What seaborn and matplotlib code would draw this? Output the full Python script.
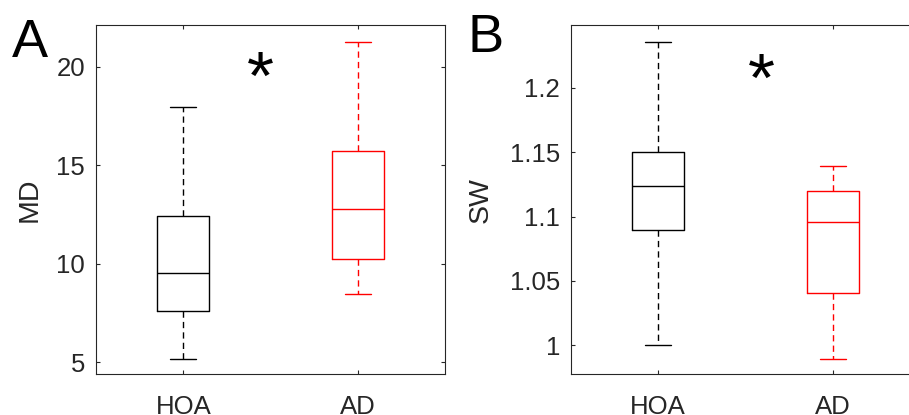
import pandas as pd
import numpy as np
import matplotlib
matplotlib.use("Agg")
import matplotlib.pyplot as plt
import seaborn as sns

# values: [lower whisker, Q1, median, Q3, upper whisker]
groups = ["HOA", "AD"]
md_hoa = [5.16, 7.57, 9.51, 12.40, 17.98]
md_ad = [8.44, 10.23, 12.79, 15.73, 21.29]
sw_hoa = [1.0005, 1.0899, 1.1236, 1.1502, 1.2357]
sw_ad = [0.9897, 1.0409, 1.0956, 1.1200, 1.1394]

md_ticks = [5, 10, 15, 20]
sw_ticks = [1.0, 1.05, 1.1, 1.15, 1.2]
sw_ticklabels = ["1", "1.05", "1.1", "1.15", "1.2"]

sns.set_style("white")
plt.rcParams["font.family"] = ["Liberation Sans", "DejaVu Sans"]

txt = "#262626"
pal = {"HOA": "black", "AD": "#ff0000"}

df_md = pd.DataFrame({"group": ["HOA"] * 5 + ["AD"] * 5, "value": md_hoa + md_ad})
df_sw = pd.DataFrame({"group": ["HOA"] * 5 + ["AD"] * 5, "value": sw_hoa + sw_ad})

fig = plt.figure(figsize=(9.09, 4.15), dpi=100)
ax1 = fig.add_axes([96 / 909, 41 / 415, 349 / 909, 348.7 / 415])
ax2 = fig.add_axes([571 / 909, 41 / 415, 349 / 909, 348.7 / 415])


def draw(ax, df, ylab):
    sns.boxplot(data=df, x="group", y="value", hue="group", order=groups,
                hue_order=groups, palette=pal, fill=False, width=0.3,
                whis=(0, 100), linewidth=1.0, legend=False, ax=ax,
                whiskerprops=dict(linestyle=(0, (4.5, 3))))
    ax.set_xlim(-0.5, 1.5)
    ax.set_xlabel("")
    ax.set_ylabel(ylab, fontsize=20.5, color=txt)
    for s in ax.spines.values():
        s.set_visible(True)
        s.set_color(txt)
        s.set_linewidth(0.8)
    ax.tick_params(direction="in", length=3, width=0.8, color=txt,
                   labelcolor=txt, labelsize=18.5, top=True, right=True,
                   left=True, bottom=True)
    ax.tick_params(axis="x", pad=15)
    ax.tick_params(axis="y", pad=8)


draw(ax1, df_md, "MD")
ax1.set_ylim(4.39, 22.12)
ax1.set_yticks(md_ticks)
ax1.yaxis.set_label_coords(-0.153, 0.5)
ax1.text(0.444, 19.29, "*", fontsize=50, ha="center", va="center", color="black")

draw(ax2, df_sw, "SW")
ax2.set_ylim(0.9778, 1.2484)
ax2.set_yticks(sw_ticks)
ax2.set_yticklabels(sw_ticklabels)
ax2.yaxis.set_label_coords(-0.221, 0.5)
ax2.text(0.589, 1.204, "*", fontsize=50, ha="center", va="center", color="black")

fig.text(11.7 / 909, 1 - 57 / 415, "A", fontsize=39, color="black", va="baseline")
fig.text(467 / 909, 1 - 52 / 415, "B", fontsize=39, color="black", va="baseline")

fig.savefig("out.png", dpi=100)
